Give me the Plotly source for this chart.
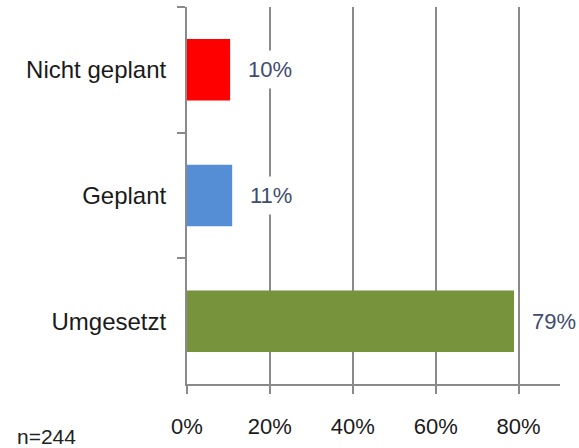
import plotly.graph_objects as go

categories = ['Nicht geplant', 'Geplant', 'Umgesetzt']
values = [10.4, 10.9, 78.9]
value_labels = ['10%', '11%', '79%']
bar_colors = ['#FF0000', '#558ED5', '#77933C']
x_ticks = [0, 20, 40, 60, 80]
x_tick_labels = ['0%', '20%', '40%', '60%', '80%']
sample_note = 'n=244'

font_family = 'Liberation Sans, Arial, sans-serif'
axis_grey = '#8a8a8a'

fig = go.Figure()
fig.add_trace(go.Bar(
    y=categories, x=values, orientation='h',
    marker=dict(color=bar_colors, line=dict(width=0)),
    width=0.49, showlegend=False, hoverinfo='x+y'))

# value labels with white background so they cut the gridlines
for cat, val, lab in zip(categories, values, value_labels):
    fig.add_annotation(x=val, y=cat, xref='x', yref='y', text=lab,
                       showarrow=False, xanchor='left', xshift=11,
                       bgcolor='white', borderpad=6,
                       font=dict(family=font_family, size=22, color='#3E4C70'))

fig.add_annotation(x=-0.461, y=-0.14, xref='paper', yref='paper', text=sample_note,
                   showarrow=False, xanchor='left', yanchor='middle',
                   font=dict(family=font_family, size=21, color='#222222'))

fig.update_layout(
    width=579, height=448,
    margin=dict(l=187, r=19, t=7, b=64, autoexpand=False),
    paper_bgcolor='white', plot_bgcolor='white',
    font=dict(family=font_family, size=22, color='#1a1a1a'),
)
fig.update_xaxes(range=[0, 90], tickvals=x_ticks, ticktext=x_tick_labels,
                 showgrid=True, gridcolor=axis_grey, gridwidth=2,
                 showline=True, linecolor=axis_grey, linewidth=2,
                 ticks='outside', ticklen=8, tickwidth=2, tickcolor=axis_grey,
                 ticklabelstandoff=14, zeroline=False, fixedrange=True,
                 automargin=False)
fig.update_yaxes(categoryorder='array', categoryarray=categories, autorange='reversed',
                 showgrid=False, showline=True, linecolor=axis_grey, linewidth=2,
                 ticks='outside', tickson='boundaries', ticklen=8, tickwidth=2,
                 tickcolor=axis_grey, ticklabelstandoff=14, fixedrange=True,
                 tickfont=dict(size=24), automargin=False)

fig.write_html('out.html', config={'displayModeBar': False},
               post_script="document.body.style.margin='0';")
